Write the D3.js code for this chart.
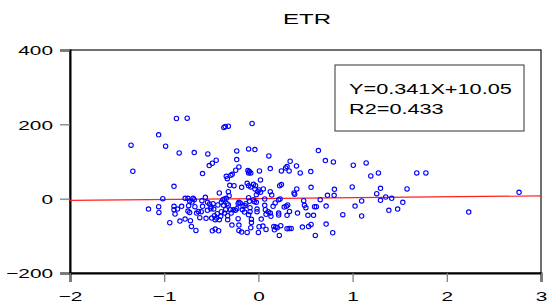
<!DOCTYPE html>
<html>
<head>
<meta charset="utf-8">
<script src="https://cdn.jsdelivr.net/npm/d3@7"></script>
<style>
  html, body { margin: 0; padding: 0; background: #fff; }
  svg { display: block; }
  text { font-family: "Liberation Sans", Arial, sans-serif; fill: #000; }
</style>
</head>
<body>
<script>
// ---- Data ----
const title = "ETR";
const xTicks = [-2, -1, 0, 1, 2, 3];
const yTicks = [-200, 0, 200, 400];
const legendLines = ["Y=0.341X+10.05", "R2=0.433"];
const lineX = [-2, 3];
const lineY = [-4.5, 7.5];

const xValues = [
-1.352,-1.333,-1.167,-1.059,-1.056,-1.059,-1.015,-0.985,-0.941,-0.896,-0.896,-0.896,-0.885,-0.870,-0.859,
-0.841,-0.833,-0.815,-0.778,-0.778,-0.756,-0.748,-0.73,-0.741,-0.748,-0.73,-0.722,-0.711,-0.704,-0.693,-0.681,-0.681,-0.674,-0.663,-0.656,-0.637,-0.622,-0.607,-0.593,-0.6,-0.593,-0.563,-0.556,-0.541,-0.541,-0.537,-0.522,-0.489,
-0.519,-0.504,-0.504,-0.496,-0.489,-0.481,-0.474,-0.467,-0.459,-0.448,-0.459,-0.444,-0.437,-0.43,-0.422,-0.415,-0.415,-0.4,-0.393,-0.393,-0.378,-0.370,-0.359,-0.348,-0.367,-0.352,-0.319,-0.363,-0.341,-0.341,-0.33,-0.333,-0.319,-0.326,-0.326,-0.319,-0.304,-0.311,-0.296,-0.289,-0.281,-0.278,-0.293,-0.267,-0.259,-0.244,-0.241,-0.23,-0.23,-0.207,-0.23,-0.215,-0.207,-0.215,-0.207,-0.207,-0.178,-0.193,-0.178,-0.17,-0.163,
-0.148,-0.141,-0.133,-0.119,-0.119,-0.104,-0.111,-0.096,-0.104,-0.081,-0.104,-0.067,-0.037,-0.104,-0.096,-0.089,-0.104,-0.089,-0.081,-0.074,-0.074,-0.081,-0.052,-0.044,-0.03,-0.052,-0.037,-0.022,-0.015,-0.007,-0.015,-0.022,0,0.007,0.011,0.022,0.007,0.022,0.03,0.048,0.052,0.067,0.067,0.074,0.081,0.081,0.104,0.111,0.126,0.126,0.141,0.133,0.126,0.156,0.178,0.163,0.185,0.17,0.2,
0.215,0.23,0.215,0.215,0.222,0.237,0.226,0.244,0.244,0.274,0.296,0.311,0.289,0.304,0.326,0.337,0.304,0.326,0.348,0.33,0.304,0.378,0.385,0.407,0.404,0.415,0.444,0.467,0.481,0.489,0.504,0.526,0.533,0.559,0.556,0.559,0.585,
0.596,0.615,0.604,0.637,0.656,0.711,0.719,0.719,0.733,0.789,0.796,0.804,0.807,0.896,0.996,1.007,1.026,1.096,1.096,1.144,1.193,1.256,1.274,1.296,1.296,1.352,1.385,1.415,1.478,1.533,1.578,1.681,1.778,2.233,2.767
];
const yValues = [
143.8,73.7,-27.9,-21.6,-36.9,171.7,0,141.1,-64.7,33.3,-20.7,-29.7,-41.3,215.7,-27.9,
123.1,-60.2,-20.7,0.9,-54.8,216.6,0.9,-6.3,-18.9,-33.3,-36.9,-59.3,-74.6,-9,0.9,-2.7,124,-21.6,-85.4,-38.7,-34.2,-51.2,-35,-20.7,-5.4,67.4,3.6,-53,-31.5,-9.9,120.4,89,95.3,
-14.4,-21.6,-27,-52.1,-86.3,-13.5,-27.9,-45.8,-81.8,103.4,-56.6,-52.1,-40.4,-17.1,-86.3,15.3,-56.6,-47.6,-35,-9.9,-2.7,-18,-38.7,-29.7,191.5,194.2,195.1,-0.9,0.9,60.2,53.9,-13.5,-17.1,-45.8,-56.6,18.9,36,8.1,-29.7,-38.7,-71,65.6,62.9,-29.7,35,-31.5,76.4,105.2,128.5,85.4,-27,-13.5,-9.9,-53.9,-71,-85.4,-89.9,-11.7,30.6,-29.7,-20.7,
-36,-18.9,-13.5,-90.8,41.3,35,75.5,72.8,69.2,69.2,133.9,202.2,132.1,2.7,-7.2,-24.3,-43.1,-35,31.5,-55.7,-63.8,-78.2,-2.7,-8.1,35,38.7,26.1,10.8,-27.9,18.9,-35,-9.9,-90.8,-75.5,74.6,50.3,23.4,17.1,-54.8,-73.7,26.1,-0.9,-18,-29.7,-42.2,-82.7,-35,115,80.9,18.9,9.9,-47.6,-38.7,-20.7,-11.7,-74.6,-76.4,-83.6,-78.2,
-2.7,-0.9,-38.7,-44,-98.9,-72.8,35,37.8,74.6,-22.5,-20.7,-17.1,82.7,86.3,74.6,100.7,-80.9,-80,-80,-34.2,-44.9,15.3,11.7,26.1,88.1,-38.7,69.2,-76.4,-5.4,-18,-24.3,-44.9,-74.6,-69.2,72.8,30.6,-44.9,
-21.6,-21.6,-98.9,129.4,-2.7,102.5,-19.8,-68.3,9,-91.7,98.9,9,25.2,-43.1,31.5,89.9,-19.8,-6.3,-46.7,96.2,61.1,13.5,69.2,27.9,-4.5,4.5,-31.5,0.9,-27.9,-9.9,26.1,69.2,69.2,-36,17.1
];

// ---- Layout ----
const W = 547, H = 306;
const mLeft = 70, mRight = 541, mTop = 50, mBottom = 273;
const SX = 1.6;

const svg = d3.select("body").append("svg").attr("width", W).attr("height", H);

const x = d3.scaleLinear().domain([-2, 3]).range([mLeft, mRight]);
const y = d3.scaleLinear().domain([-200, 400]).range([mBottom, mTop]);

// Frame
svg.append("rect")
  .attr("x", mLeft).attr("y", mTop)
  .attr("width", mRight - mLeft).attr("height", mBottom - mTop)
  .attr("fill", "none").attr("stroke", "#111").attr("stroke-width", 1.2);

// Y axis
const gy = svg.append("g").attr("transform", `translate(${mLeft},0)`)
  .call(d3.axisLeft(y).tickValues(yTicks).tickSize(10).tickFormat(d3.format("d")));
gy.select(".domain").attr("stroke", "#000").attr("stroke-width", 2);
gy.selectAll(".tick line").attr("stroke", "#777").attr("stroke-width", 1.2);
gy.selectAll(".tick text")
  .attr("x", 0).attr("dy", "0.36em")
  .attr("transform", `translate(-17,0) scale(${SX},1)`)
  .attr("text-anchor", "end")
  .style("font-size", "13px").style("font-family", "'Liberation Sans', Arial, sans-serif");

// X axis
const gx = svg.append("g").attr("transform", `translate(0,${mBottom})`)
  .call(d3.axisBottom(x).tickValues(xTicks).tickSize(9).tickFormat(d3.format("d")));
gx.select(".domain").attr("stroke", "#000").attr("stroke-width", 2);
gx.selectAll(".tick line").attr("stroke", "#777").attr("stroke-width", 1.2);
gx.selectAll(".tick text")
  .attr("y", 0).attr("dy", 0)
  .attr("transform", `translate(0,28) scale(${SX},1)`)
  .attr("text-anchor", "middle")
  .style("font-size", "13px").style("font-family", "'Liberation Sans', Arial, sans-serif");

// Regression line
svg.append("line")
  .attr("x1", x(lineX[0])).attr("y1", y(lineY[0]))
  .attr("x2", x(lineX[1])).attr("y2", y(lineY[1]))
  .attr("stroke", "#ff2020").attr("stroke-width", 1.1);

// Points
svg.append("g").selectAll("circle")
  .data(xValues.map((d, i) => [d, yValues[i]]))
  .join("circle")
  .attr("cx", d => x(d[0])).attr("cy", d => y(d[1]))
  .attr("r", 2.2)
  .attr("fill", "none").attr("stroke", "#0000ff").attr("stroke-width", 1.1);

// Title
svg.append("text")
  .attr("transform", `translate(307,24) scale(${SX},1)`)
  .attr("text-anchor", "middle")
  .style("font-size", "15px")
  .text(title);

// Legend box
svg.append("rect")
  .attr("x", 335).attr("y", 65).attr("width", 189).attr("height", 66)
  .attr("fill", "#fff").attr("stroke", "#333").attr("stroke-width", 1);
svg.selectAll(".leg").data(legendLines).join("text")
  .attr("class", "leg")
  .attr("transform", (d, i) => `translate(349,${94 + i * 19.5}) scale(1.55,1)`)
  .style("font-size", "14px")
  .text(d => d);
</script>
</body>
</html>
